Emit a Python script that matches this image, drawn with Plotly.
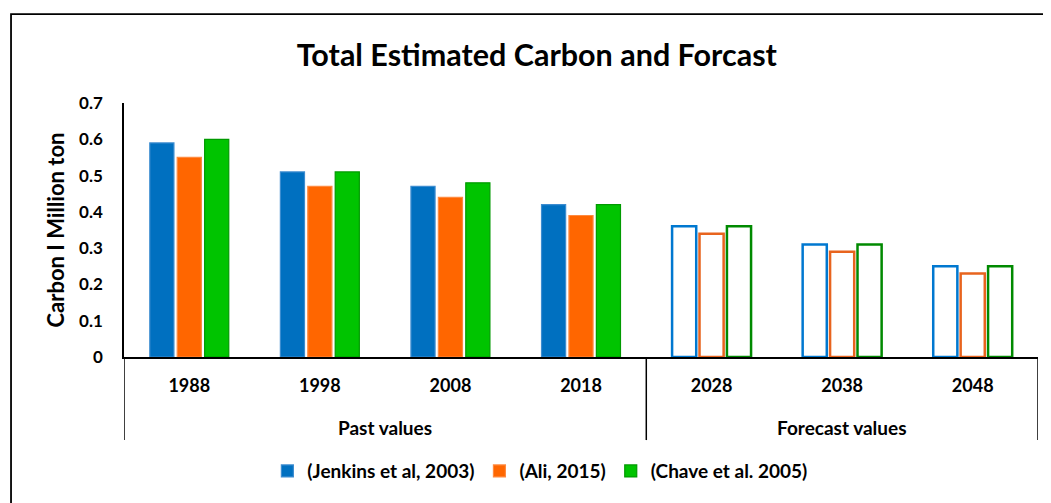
import plotly.graph_objects as go

years = ["1988", "1998", "2008", "2018", "2028", "2038", "2048"]
group_names = ["Past values", "Forecast values"]
group_sizes = [4, 3]
forecast = [False, False, False, False, True, True, True]

series_names = ["(Jenkins et al, 2003)", "(Ali, 2015)", "(Chave et al. 2005)"]
jenkins = [0.59, 0.51, 0.47, 0.42, 0.36, 0.31, 0.25]
ali = [0.55, 0.47, 0.44, 0.39, 0.34, 0.29, 0.23]
chave = [0.60, 0.51, 0.48, 0.42, 0.36, 0.31, 0.25]

fills = ["#0070C0", "#FF6600", "#00C400"]
fill_edges = ["#3C8CD0", "#FF8A40", "#009A00"]
hollow_edges = ["#0078D0", "#E8641E", "#008A00"]

FONT = "Lato"

fig = go.Figure()
for name, vals, fc, fe, he in zip(series_names, [jenkins, ali, chave], fills, fill_edges, hollow_edges):
    fig.add_trace(go.Bar(
        name=name,
        x=years,
        y=vals,
        marker=dict(
            color=["white" if f else fc for f in forecast],
            line=dict(color=[he if f else fe for f in forecast], width=[2.5 if f else 1.2 for f in forecast]),
        ),
    ))

# page body has an 8px margin, so the figure is 8px smaller than the window
fig.update_layout(
    width=1043, height=495,
    margin=dict(l=116, r=13, t=95, b=146),
    paper_bgcolor="white", plot_bgcolor="white",
    font=dict(family=FONT, color="black"),
    barmode="group", bargap=0.37, bargroupgap=0.12,
    title=dict(text="Total Estimated Carbon and Forcast", x=0.507, xanchor="center",
               y=0.905, yanchor="middle", font=dict(size=30.5, family=FONT, color="black", weight="bold")),
    showlegend=True,
    legend=dict(orientation="h", x=0.455, xanchor="center", y=-0.449, yanchor="middle",
                font=dict(size=19, family=FONT, color="black", weight="bold"),
                traceorder="normal"),
)
fig.update_yaxes(range=[0, 0.7], dtick=0.1, showgrid=False, zeroline=False,
                 showline=True, linecolor="black", linewidth=1.5,
                 tickfont=dict(size=17, family=FONT, color="black", weight="bold"),
                 tickformat=".1~f", ticks="", ticklabelstandoff=16,
                 title=dict(text="Carbon I Million ton", font=dict(size=22, family=FONT, color="black", weight="bold"), standoff=8))
fig.update_xaxes(showgrid=False, showline=True, linecolor="black", linewidth=1.5,
                 tickfont=dict(size=18, family=FONT, color="black", weight="bold"),
                 ticks="", ticklabelstandoff=12, range=[-0.5, len(years) - 0.5])

# group dividers and group labels under the category axis
start = 0
edges = [-0.5]
for gname, gsize in zip(group_names, group_sizes):
    fig.add_annotation(x=start + (gsize - 1) / 2, xref="x", y=-0.276, yref="paper",
                       text=gname, showarrow=False, yanchor="middle",
                       font=dict(size=19, family=FONT, color="black", weight="bold"))
    start += gsize
    edges.append(start - 0.5)
for e in edges:
    fig.add_shape(type="line", xref="x", yref="paper", x0=e, x1=e, y0=0, y1=-0.327,
                  line=dict(color="black", width=1.5))

# outer frame (right and bottom sides fall outside the picture)
fig.add_shape(type="rect", xref="paper", yref="paper",
              x0=-0.1236, x1=1.06, y0=-0.65, y1=1.350,
              line=dict(color="black", width=1.8), fillcolor="rgba(0,0,0,0)")

fig.write_html("out.html")
